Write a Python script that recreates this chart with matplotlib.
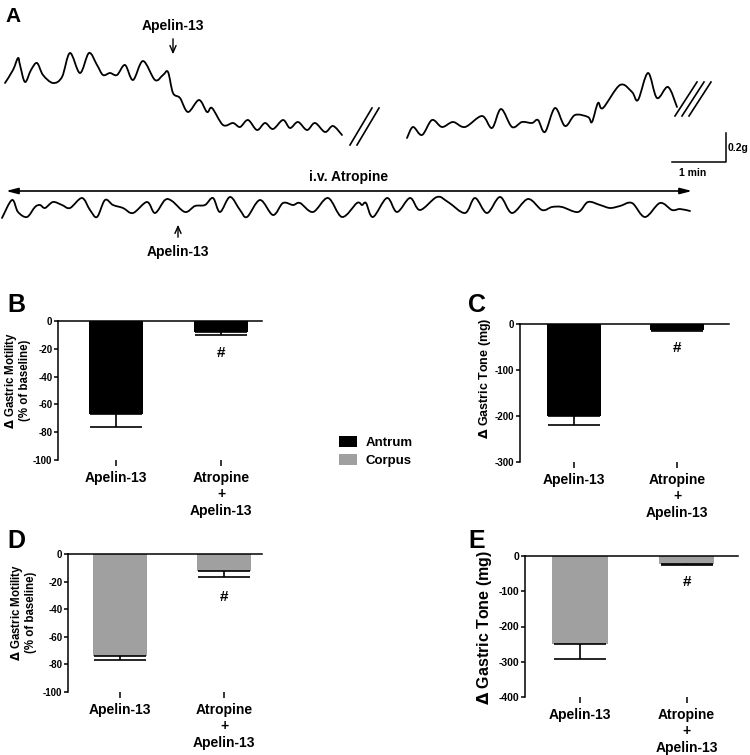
import matplotlib
matplotlib.use('Agg')
import matplotlib.pyplot as plt
from matplotlib.patches import Patch, PathPatch
from matplotlib.path import Path
import numpy as np

plt.rcParams['font.family'] = ['Liberation Sans', 'DejaVu Sans']
plt.rcParams['font.weight'] = 'bold'
plt.rcParams['mathtext.fontset'] = 'dejavusans'

# ---------------- data ----------------
groups = ['Apelin-13', 'Atropine\n+\nApelin-13']

antrum_motility = [-67, -8]
antrum_motility_err = [9, 2]
antrum_tone = [-200, -12]
antrum_tone_err = [20, 3]
corpus_motility = [-74, -12]
corpus_motility_err = [3, 5]
corpus_tone = [-250, -22]
corpus_tone_err = [43, 3]

# panel A recordings (time, force) (image units, y downward)
trace1a_t = [5, 13, 18, 20, 25, 31, 37, 43, 53, 62, 70, 80, 89, 97, 103, 110, 117, 125, 133,
             143, 155, 163, 168, 173, 180, 188, 199, 207, 212, 223, 233, 240, 248, 257, 265,
             273, 283, 290, 298, 307, 315, 325, 333, 342]
trace1a_f = [83, 70, 58, 65, 82, 70, 63, 75, 83, 77, 53, 73, 53, 65, 75, 73, 75, 65, 80,
             61, 80, 75, 72, 93, 98, 112, 100, 112, 108, 125, 123, 127, 120, 130, 123,
             129, 120, 128, 122, 130, 123, 132, 126, 135]
trace1b_t = [407, 413, 422, 432, 442, 453, 465, 482, 492, 501, 512, 522, 532, 538, 545, 555,
             565, 575, 588, 592, 598, 603, 620, 632, 638, 648, 657, 668, 677]
trace1b_f = [138, 127, 135, 120, 127, 122, 127, 116, 128, 109, 127, 122, 123, 120, 132, 108,
             126, 115, 117, 122, 103, 108, 85, 92, 100, 73, 98, 87, 107]
trace2_t = [2, 12, 18, 27, 35, 40, 45, 53, 62, 70, 82, 90, 97, 105, 113, 123, 133, 147, 155,
            165, 172, 185, 195, 205, 213, 220, 230, 240, 247, 260, 273, 283, 293, 300, 313,
            328, 342, 357, 362, 366, 373, 387, 397, 410, 420, 437, 448, 465, 475, 487, 500,
            512, 528, 542, 552, 562, 578, 588, 600, 610, 620, 632, 645, 660, 672, 680, 690]
trace2_f = [218, 200, 212, 217, 207, 205, 208, 202, 205, 208, 198, 210, 217, 200, 205, 208,
            213, 202, 213, 200, 201, 212, 206, 205, 198, 212, 197, 210, 217, 200, 215, 203,
            205, 203, 212, 198, 217, 203, 205, 203, 217, 198, 212, 198, 210, 197, 202, 213,
            198, 213, 197, 213, 199, 210, 207, 207, 212, 202, 205, 208, 206, 203, 217, 203,
            210, 209, 211]

BLACK = '#000000'
GRAY = '#a0a0a0'
W, H = 750, 755

fig = plt.figure(figsize=(7.5, 7.55), dpi=100)


def px_axes(x0, y0, x1, y1):
    return fig.add_axes([x0 / W, 1 - y1 / H, (x1 - x0) / W, (y1 - y0) / H])


def smooth_trace(ax, t, f, lw=1.3):
    """Draw a recording through the read points as a smooth Bezier path."""
    p = np.column_stack([t, f]).astype(float)
    n = len(p)
    verts = [p[0]]
    codes = [Path.MOVETO]
    for i in range(n - 1):
        p0 = p[i - 1] if i > 0 else p[i]
        p1 = p[i]
        p2 = p[i + 1]
        p3 = p[i + 2] if i + 2 < n else p[i + 1]
        verts += [p1 + (p2 - p0) / 6.0, p2 - (p3 - p1) / 6.0, p2]
        codes += [Path.CURVE4] * 3
    ax.add_patch(PathPatch(Path(verts, codes), facecolor='none', edgecolor='black',
                           lw=lw, joinstyle='round', capstyle='round'))


# ---------------- panel A ----------------
axA = px_axes(0, 0, 750, 262)
axA.set_xlim(0, 750)
axA.set_ylim(262, 0)
axA.axis('off')
for t, f in [(trace1a_t, trace1a_f), (trace1b_t, trace1b_f), (trace2_t, trace2_f)]:
    smooth_trace(axA, t, f)

# break marks
for dx in (0, 7):
    axA.plot([350 + dx, 372 + dx], [145, 108], color='black', lw=1.2)
for dx in (0, 7, 14):
    axA.plot([675 + dx, 697 + dx], [116, 82], color='black', lw=1.2)

# scale bars
axA.plot([672, 726, 726], [162, 162, 133], color='black', lw=1.1)
axA.text(728, 148, '0.2g', fontsize=7.5, ha='left', va='center')
axA.text(693, 173, '1 min', fontsize=7.5, ha='center', va='center')

# annotations
axA.text(173, 26, 'Apelin-13', fontsize=10, ha='center', va='center')
axA.annotate('', xy=(173, 57), xytext=(173, 36),
             arrowprops=dict(arrowstyle='->,head_length=0.5,head_width=0.22', lw=1.0, color='black'))
axA.text(178, 252, 'Apelin-13', fontsize=10, ha='center', va='center')
axA.annotate('', xy=(178, 222), xytext=(178, 240),
             arrowprops=dict(arrowstyle='->,head_length=0.5,head_width=0.22', lw=1.0, color='black'))
axA.text(349, 177, 'i.v. Atropine', fontsize=10, ha='center', va='center')
axA.annotate('', xy=(6, 191), xytext=(692, 191),
             arrowprops=dict(arrowstyle='<|-|>,head_length=0.7,head_width=0.18', lw=1.2,
                             color='black', shrinkA=0, shrinkB=0))


# ---------------- bar panels ----------------
def bar_panel(box, xlim, ylim, yticks, vals, errs, color, ylabel, ylab_size,
              ylab_xy, hash_y, tick_size):
    ax = px_axes(*box)
    x = [0, 1]
    ax.bar(x, vals, width=0.52, color=color, edgecolor='none', zorder=2)
    ax.errorbar(x, vals, yerr=[errs, [0, 0]], fmt='none', ecolor='black',
                elinewidth=1.2, capsize=19, capthick=1.2, zorder=3)
    ax.set_xlim(*xlim)
    ax.set_ylim(*ylim)
    ax.set_yticks(yticks)
    ax.set_yticklabels([str(v) for v in yticks], fontsize=tick_size, fontweight='bold')
    ax.set_xticks(x)
    ax.set_xticklabels(groups, fontsize=10, fontweight='bold', linespacing=1.2)
    for s in ('right', 'bottom'):
        ax.spines[s].set_visible(False)
    for s in ('left', 'top'):
        ax.spines[s].set_linewidth(1.1)
    ax.tick_params(axis='y', direction='out', length=3, width=1.1, pad=1)
    ax.tick_params(axis='x', direction='out', length=4, width=1.1, pad=4, top=False)
    ax.set_ylabel(ylabel, fontsize=ylab_size, fontweight='bold', linespacing=1.05)
    ax.yaxis.set_label_coords(*ylab_xy)
    ax.text(1, hash_y, '#', fontsize=11, ha='center', va='center', fontweight='bold')
    return ax


bar_panel((58, 321, 262, 460), (-0.552, 1.39), (-100, 0), [-100, -80, -60, -40, -20, 0],
          antrum_motility, antrum_motility_err, BLACK,
          '$\\Delta$ Gastric Motility\n(% of baseline)', 8.3, (-0.13, 0.57), -23, 7)
bar_panel((520, 324, 729, 462), (-0.517, 1.498), (-300, 0), [-300, -200, -100, 0],
          antrum_tone, antrum_tone_err, BLACK,
          '$\\Delta$ Gastric Tone (mg)', 9, (-0.13, 0.61), -52, 7)
bar_panel((68, 554, 262, 692), (-0.5, 1.365), (-100, 0), [-100, -80, -60, -40, -20, 0],
          corpus_motility, corpus_motility_err, GRAY,
          '$\\Delta$ Gastric Motility\n(% of baseline)', 8.3, (-0.16, 0.58), -31, 7)
bar_panel((525, 556, 738, 697), (-0.516, 1.483), (-400, 0), [-400, -300, -200, -100, 0],
          corpus_tone, corpus_tone_err, GRAY,
          '$\\Delta$ Gastric Tone (mg)', 11.5, (-0.145, 0.49), -74, 7.5)

# panel letters
for letter, x, y, size in [('A', 5, 22, 15), ('B', 7, 312, 18), ('C', 468, 312, 18),
                           ('D', 7, 548, 18), ('E', 468, 548, 18)]:
    fig.text(x / W, 1 - y / H, letter, fontsize=size, fontweight='bold',
             ha='left', va='baseline')

# legend
handles = [Patch(facecolor=BLACK, edgecolor='none'), Patch(facecolor=GRAY, edgecolor='none')]
fig.legend(handles, ['Antrum', 'Corpus'], loc='upper left',
           bbox_to_anchor=(339 / W, 1 - 436 / H), frameon=False,
           handlelength=1.4, handleheight=0.9, handletextpad=0.6, labelspacing=0.4,
           borderpad=0, borderaxespad=0, prop={'weight': 'bold', 'size': 9.5})

fig.savefig('out.png', dpi=100)
